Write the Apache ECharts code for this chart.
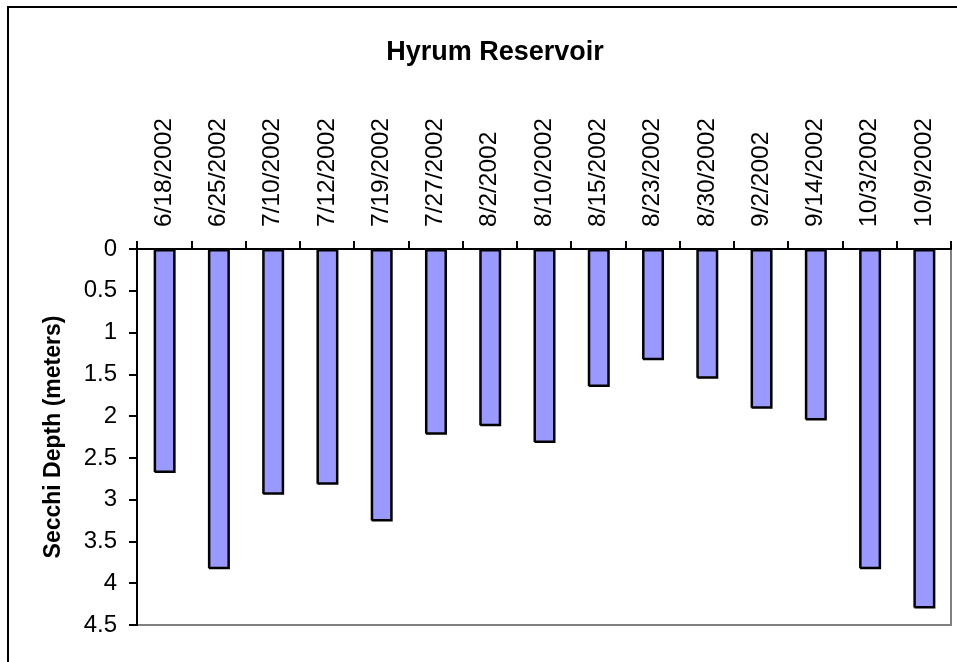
<!DOCTYPE html>
<html>
<head>
<meta charset="utf-8">
<script src="https://cdn.jsdelivr.net/npm/echarts@6/dist/echarts.min.js"></script>
<style>
  html, body { margin: 0; padding: 0; background: #fff; }
  #chart { width: 957px; height: 662px; }
</style>
</head>
<body>
<div id="chart"></div>
<script>
// sample dates
var dates = ['6/18/2002', '6/25/2002', '7/10/2002', '7/12/2002', '7/19/2002', '7/27/2002', '8/2/2002',
    '8/10/2002', '8/15/2002', '8/23/2002', '8/30/2002', '9/2/2002', '9/14/2002', '10/3/2002', '10/9/2002'];

// secchi depth, meters
var depths = [2.67, 3.82, 2.93, 2.81, 3.25, 2.21, 2.11, 2.31, 1.64, 1.32, 1.54, 1.90, 2.04, 3.82, 4.29];

var chart = echarts.init(document.getElementById('chart'));

chart.setOption({
    animation: false,
    title: {
        text: 'Hyrum Reservoir',
        left: 490,
        textAlign: 'center',
        top: 34,
        textStyle: {
            fontFamily: 'Liberation Sans',
            fontSize: 27,
            fontWeight: 'bold',
            color: '#000'
        }
    },
    graphic: [
        {
            type: 'rect',
            shape: { x: 8, y: 7, width: 1200, height: 1200 },
            style: { fill: 'none', stroke: '#000', lineWidth: 2 },
            silent: true
        }
    ],
    grid: {
        left: 137,
        right: 6,
        top: 249,
        bottom: 37,
        show: true,
        borderColor: '#808080',
        borderWidth: 2
    },
    xAxis: {
        type: 'category',
        position: 'top',
        data: dates,
        axisLine: { lineStyle: { color: '#000', width: 2 } },
        axisTick: { show: true, length: 8, lineStyle: { color: '#000', width: 2 } },
        axisLabel: {
            rotate: 90,
            margin: 22,
            interval: 0,
            color: '#000',
            fontFamily: 'Liberation Sans',
            fontSize: 24.5
        }
    },
    yAxis: {
        type: 'value',
        inverse: true,
        min: 0,
        max: 4.5,
        interval: 0.5,
        name: 'Secchi Depth (meters)',
        nameLocation: 'middle',
        nameGap: 72,
        nameTextStyle: {
            fontFamily: 'Liberation Sans',
            fontSize: 23,
            fontWeight: 'bold',
            color: '#000'
        },
        axisLine: { show: true, lineStyle: { color: '#000', width: 2 } },
        axisTick: { show: true, length: 8, lineStyle: { color: '#000', width: 2 } },
        splitLine: { show: false },
        axisLabel: {
            margin: 20,
            color: '#000',
            fontFamily: 'Liberation Sans',
            fontSize: 24
        }
    },
    series: [
        {
            type: 'bar',
            data: depths,
            barWidth: 21,
            itemStyle: {
                color: '#9999FF',
                borderColor: '#000',
                borderWidth: 1.5,
                shadowColor: '#000',
                shadowBlur: 0,
                shadowOffsetX: 1,
                shadowOffsetY: 1
            }
        }
    ]
});
</script>
</body>
</html>
